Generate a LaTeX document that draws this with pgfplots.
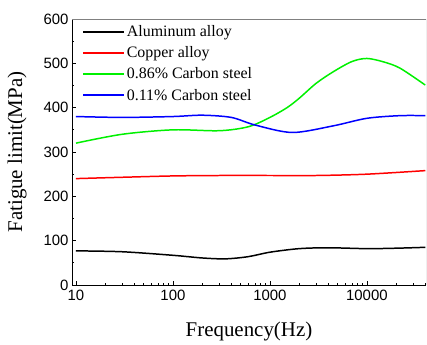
\documentclass[border=0pt]{standalone}
\usepackage{fontspec}
\setmainfont{Liberation Serif}
\newfontfamily\arialfont{Liberation Sans}
\usepackage{pgfplots}
\pgfplotsset{compat=1.18}
\definecolor{lgreen}{RGB}{0,240,0}
\begin{document}
\begin{tikzpicture}
\begin{axis}[
  scale only axis,
  width=354bp, height=266bp,
  xmode=log,
  xmin=9.1, xmax=40700,
  ymin=0, ymax=600,
  axis lines=left,
  axis line style={-, line width=0.8pt},
  xtick={10,100,1000,10000},
  xticklabels={10,100,1000,10000},
  minor xtick={20,30,40,50,60,70,80,90,200,300,400,500,600,700,800,900,2000,3000,4000,5000,6000,7000,8000,9000,20000,30000,40000},
  ytick={0,100,200,300,400,500,600},
  minor ytick={50,150,250,350,450,550},
  tick align=inside,
  major tick length=4.5bp,
  minor tick length=2.5bp,
  tick style={black, line width=0.7pt},
  /pgf/number format/assume math mode=true,
  tick label style={font=\arialfont\fontsize{15}{15}\selectfont},
  xticklabel style={yshift=-2bp},
  xlabel={Frequency(Hz)},
  ylabel={Fatigue limit(MPa)},
  label style={font=\fontsize{21}{21}\selectfont},
  xlabel style={yshift=-14bp},
  ylabel style={yshift=10bp},
  legend cell align=left,
  legend style={at={(rel axis cs:0.02,0.99)}, anchor=north west, draw=none,
    font=\fontsize{16}{19}\selectfont, row sep=4.5bp},
  legend image code/.code={\draw[#1, line width=1.6pt] (0bp,0bp) -- (41bp,0bp);},
]
\addplot[black, line width=1.5pt, smooth] coordinates {
 (10,77) (30,75) (100,67) (200,61) (350,59) (600,64) (1000,74) (2000,82) (4000,84) (10000,82) (20000,83) (40000,85)};
\addlegendentry{Aluminum alloy}
\addplot[red, line width=1.5pt, smooth] coordinates {
 (10,240) (30,243) (100,246) (300,247) (1000,247) (3000,247) (10000,250) (40000,258)};
\addlegendentry{Copper alloy}
\addplot[lgreen, line width=1.5pt, smooth] coordinates {
 (10,320) (30,340) (100,350) (300,348) (600,357) (1000,378) (1500,400) (2000,421) (3000,455) (4500,481) (7000,504) (10000,511) (15000,503) (22000,489) (40000,451)};
\addlegendentry{0.86\% Carbon steel}
\addplot[blue, line width=1.5pt, smooth] coordinates {
 (10,380) (30,378) (100,380) (200,383) (400,378) (700,361) (1700,344) (4500,359) (10000,376) (22000,382) (40000,382)};
\addlegendentry{0.11\% Carbon steel}
\draw[gray, line width=0.8pt] (rel axis cs:0,1) -- (rel axis cs:1,1) -- (rel axis cs:1,0);
\end{axis}
\path (current axis.south west) ++(-72bp,-54bp) coordinate (bbsw);
\path (current axis.north east) ++(1bp,19bp) coordinate (bbne);
\useasboundingbox (bbsw) rectangle (bbne);
\end{tikzpicture}
\end{document}
